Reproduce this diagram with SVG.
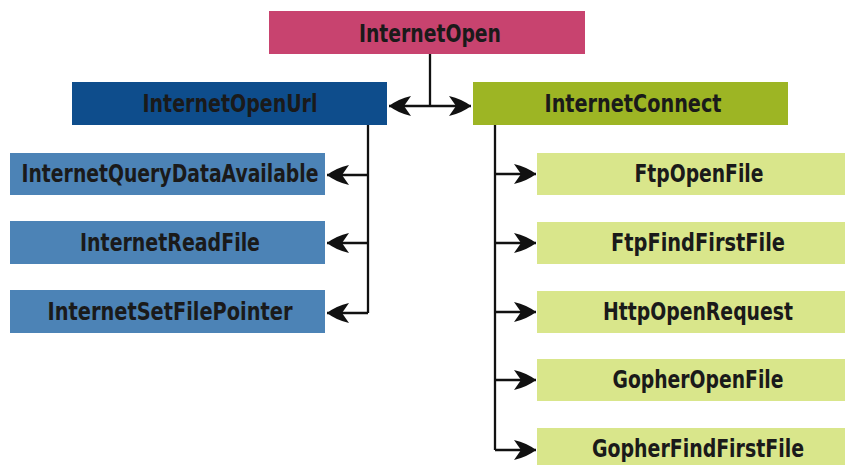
<svg xmlns="http://www.w3.org/2000/svg" width="845" height="465" viewBox="0 0 845 465">
<defs>
<marker id="ah" markerUnits="userSpaceOnUse" markerWidth="24" markerHeight="22" refX="22" refY="11" orient="auto">
<path d="M0,1 Q13,4 22,11 Q13,18 0,21 L7,11 z" fill="#111"/>
</marker>
</defs>
<style>
.t{font-family:"DejaVu Sans Condensed","DejaVu Sans",sans-serif;font-weight:bold;font-size:24px;fill:#1a1a1a;text-anchor:middle}
.c{fill:none;stroke:#111;stroke-width:2.3}
.pink{fill:#C8436F}
.dblue{fill:#0E4D8C}
.olive{fill:#9DB524}
.lblue{fill:#4C83B6}
.lgreen{fill:#D9E68B}
</style>
<rect width="845" height="465" fill="#fff"/>
<g id="connectors">
<path class="c" d="M430,54 V106"/>
<path class="c" d="M430,106 H389" marker-end="url(#ah)"/>
<path class="c" d="M430,106 H471" marker-end="url(#ah)"/>
<path class="c" d="M368,125 V313"/>
<path class="c" d="M368,175 H327" marker-end="url(#ah)"/>
<path class="c" d="M368,243 H327" marker-end="url(#ah)"/>
<path class="c" d="M368,313 H327" marker-end="url(#ah)"/>
<path class="c" d="M495,125 V450"/>
<path class="c" d="M495,174 H536" marker-end="url(#ah)"/>
<path class="c" d="M495,243 H536" marker-end="url(#ah)"/>
<path class="c" d="M495,312 H536" marker-end="url(#ah)"/>
<path class="c" d="M495,380 H536" marker-end="url(#ah)"/>
<path class="c" d="M495,450 H536" marker-end="url(#ah)"/>
</g>
<g id="internetOpen"><rect class="pink" x="269" y="11" width="316" height="43"/><text class="t" x="430" y="42" textLength="142" lengthAdjust="spacingAndGlyphs">InternetOpen</text></g>
<g id="internetOpenUrl"><rect class="dblue" x="72" y="82" width="315" height="43"/><text class="t" x="230" y="112" textLength="175" lengthAdjust="spacingAndGlyphs">InternetOpenUrl</text></g>
<g id="internetConnect"><rect class="olive" x="473" y="82" width="315" height="43"/><text class="t" x="633" y="112" textLength="177" lengthAdjust="spacingAndGlyphs">InternetConnect</text></g>
<g id="queryData"><rect class="lblue" x="10" y="153" width="315" height="42"/><text class="t" x="170" y="182" textLength="297" lengthAdjust="spacingAndGlyphs">InternetQueryDataAvailable</text></g>
<g id="readFile"><rect class="lblue" x="10" y="221" width="315" height="43"/><text class="t" x="170" y="251" textLength="180" lengthAdjust="spacingAndGlyphs">InternetReadFile</text></g>
<g id="setFilePointer"><rect class="lblue" x="10" y="290" width="315" height="43"/><text class="t" x="170" y="320" textLength="245" lengthAdjust="spacingAndGlyphs">InternetSetFilePointer</text></g>
<g id="ftpOpenFile"><rect class="lgreen" x="537" y="153" width="308" height="42"/><text class="t" x="699" y="182" textLength="129" lengthAdjust="spacingAndGlyphs">FtpOpenFile</text></g>
<g id="ftpFindFirstFile"><rect class="lgreen" x="537" y="222" width="308" height="42"/><text class="t" x="698" y="251" textLength="174" lengthAdjust="spacingAndGlyphs">FtpFindFirstFile</text></g>
<g id="httpOpenRequest"><rect class="lgreen" x="537" y="291" width="308" height="42"/><text class="t" x="698" y="320" textLength="190" lengthAdjust="spacingAndGlyphs">HttpOpenRequest</text></g>
<g id="gopherOpenFile"><rect class="lgreen" x="537" y="359" width="308" height="42"/><text class="t" x="698" y="388" textLength="171" lengthAdjust="spacingAndGlyphs">GopherOpenFile</text></g>
<g id="gopherFindFirstFile"><rect class="lgreen" x="537" y="428" width="308" height="42"/><text class="t" x="698" y="457" textLength="212" lengthAdjust="spacingAndGlyphs">GopherFindFirstFile</text></g>
</svg>
